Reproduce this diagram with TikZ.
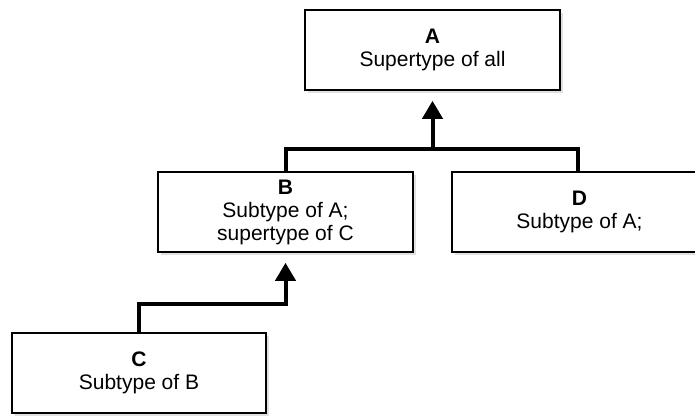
\documentclass[tikz,border=0pt]{standalone}
\usepackage{fontspec}
\setmainfont{Liberation Sans}
\usetikzlibrary{arrows.meta,shadows}
\tikzset{
  typebox/.style={draw=black, line width=1.6pt, fill=white, minimum width=255pt, minimum height=80pt,
    align=center, inner sep=0pt, font=\fontsize{21}{23}\selectfont,
    drop shadow={shadow xshift=3pt, shadow yshift=-3pt, fill=black!12, opacity=1}},
  link/.style={line width=4pt},
  arr/.style={line width=4pt, -{Triangle[width=20pt,length=18pt]}},
}
\begin{document}
\begin{tikzpicture}[x=1pt,y=-1pt]
\useasboundingbox (0,0) rectangle (695,415);
\begin{scope}
\clip (0,0) rectangle (695,415);
\node[typebox] (A) at (432.5,50) {\textbf{A}\\Supertype of all};
\node[typebox] (B) at (285.5,212) {\textbf{B}\\Subtype of A;\\supertype of C};
\node[typebox] (D) at (579.5,212) {\textbf{D}\\Subtype of A;};
\node[typebox, minimum width=254pt] (C) at (139,373) {\textbf{C}\\Subtype of B};
\end{scope}
\coordinate (bar) at (432.5,149);
\draw[link] (B.north) |- (bar) -| ([xshift=-1.5pt]D.north);
\draw[arr] (bar) -- ([yshift=-10pt]A.south);
\draw[arr] (C.north) |- ([yshift=-51pt]B.south) -- ([yshift=-10pt]B.south);
\end{tikzpicture}
\end{document}
